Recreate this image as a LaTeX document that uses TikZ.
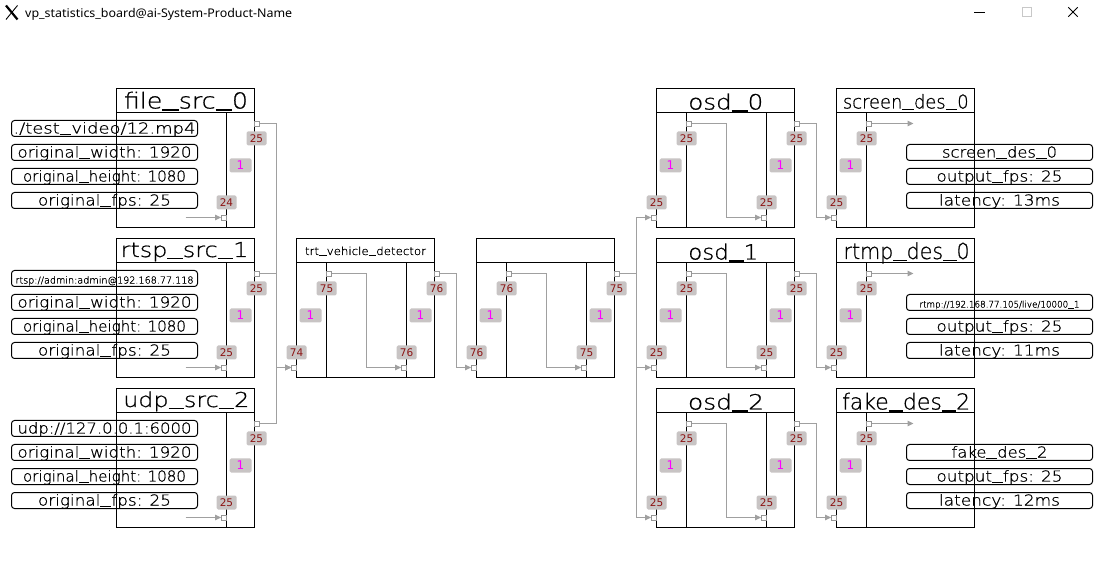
\documentclass[tikz,border=0pt]{standalone}
\usepackage{fontspec}
\usepackage{graphicx}
\usetikzlibrary{arrows.meta}
\newfontfamily\hf{DejaVu Sans ExtraLight}[FakeBold=0.8]
\newfontfamily\lf{DejaVu Sans}
\newfontfamily\uif{Noto Sans}
\definecolor{lblbg}{RGB}{200,196,196}
\definecolor{lblred}{RGB}{140,20,20}
\definecolor{conngray}{RGB}{160,160,160}
\definecolor{portgray}{RGB}{150,150,150}
\definecolor{mag}{RGB}{255,0,255}
\definecolor{ctlgray}{RGB}{200,200,200}
\newcommand\fs[1]{\fontsize{#1}{#1}\selectfont}
\newcommand\fit[2]{\resizebox{#1pt}{\height}{#2}}
\newcommand\us{\rule[-0.1em]{0.65em}{0.055em}}
\tikzset{
 blk/.style={draw=black,line width=1pt,minimum width=138pt,minimum height=139pt,inner sep=0pt},
 blkl/.style={draw=black,line width=1pt},
 port/.style={draw=portgray,fill=white,line width=0.8pt,minimum size=5pt,inner sep=0pt},
 lbl/.style={fill=lblbg,text=lblred,rounded corners=1.5pt,minimum width=20pt,minimum height=14pt,inner sep=0pt,font=\lf\fs{10.5}},
 one/.style={fill=lblbg,text=mag,rounded corners=1.5pt,minimum width=22pt,minimum height=14pt,inner sep=0pt,font=\lf\fs{12}},
 info/.style={draw=black,line width=1pt,rounded corners=3pt,minimum width=186pt,minimum height=16pt,inner sep=0pt,text height=12pt,text depth=2pt,font=\hf\fs{15}},
 conn/.style={draw=conngray,line width=1pt},
 arr/.style={-{Triangle[length=6pt,width=5.5pt]}},
 ttl/.style={anchor=base,inner sep=0pt,font=\hf},
}
% source block: name, L, T, inner label, out label
\newcommand\srcblk[5]{%
 \node[blk] (#1) at (#2+69,#3+69.5) {};
 \draw[blkl] (#2,#3+24) -- (#2+138,#3+24);
 \draw[blkl] (#2+110,#3+24) -- (#2+110,#3+139);
 \node[port] (#1-x) at (#2+107.5,#3+129) {};
 \node[port] (#1-out) at (#2+140.5,#3+35) {};
 \coordinate (#1-xs) at (#2+69,#3+129);
 \draw[conn,arr] (#1-xs) -- (#1-x.west);
 \node[lbl] (#1-xl) at (#2+110,#3+114) {#4};
 \node[lbl] (#1-ol) at (#2+140,#3+50) {#5};
 \node[one] (#1-or) at (#2+124,#3+77) {1};
}
% processing block: name, L, T, in, mid, inner, out labels
\newcommand\procblk[7]{%
 \node[blk] (#1) at (#2+69,#3+69.5) {};
 \draw[blkl] (#2,#3+24) -- (#2+138,#3+24);
 \draw[blkl] (#2+30,#3+24) -- (#2+30,#3+139);
 \draw[blkl] (#2+110,#3+24) -- (#2+110,#3+139);
 \node[port] (#1-in) at (#2-2.5,#3+129) {};
 \node[port] (#1-mid) at (#2+32.5,#3+35) {};
 \node[port] (#1-x) at (#2+107.5,#3+129) {};
 \node[port] (#1-out) at (#2+140.5,#3+35) {};
 \draw[conn,arr] (#1-mid.east) -- (#2+70,#3+35) -- (#2+70,#3+129) -- (#1-x.west);
 \node[lbl] (#1-il) at (#2,#3+114) {#4};
 \node[lbl] (#1-ml) at (#2+30,#3+50) {#5};
 \node[lbl] (#1-xl) at (#2+110,#3+114) {#6};
 \node[lbl] (#1-ol) at (#2+140,#3+50) {#7};
 \node[one] (#1-ol1) at (#2+14,#3+77) {1};
 \node[one] (#1-or1) at (#2+124,#3+77) {1};
}
% destination block: name, L, T, in label, mid label
\newcommand\dstblk[5]{%
 \node[blk] (#1) at (#2+69,#3+69.5) {};
 \draw[blkl] (#2,#3+24) -- (#2+138,#3+24);
 \draw[blkl] (#2+30,#3+24) -- (#2+30,#3+139);
 \node[port] (#1-in) at (#2-2.5,#3+129) {};
 \node[port] (#1-mid) at (#2+32.5,#3+35) {};
 \coordinate (#1-end) at (#2+77,#3+35);
 \draw[conn,arr] (#1-mid.east) -- (#1-end);
 \node[lbl] (#1-il) at (#2,#3+114) {#4};
 \node[lbl] (#1-ml) at (#2+30,#3+50) {#5};
 \node[one] (#1-ol1) at (#2+14,#3+77) {1};
}
\begin{document}
\begin{tikzpicture}[x=1pt,y=-1pt]
\fill[white] (0,0) rectangle (1096,569);
\useasboundingbox (0,0) rectangle (1096,569);
% window title bar
\node[anchor=base west,inner sep=0pt,font=\uif\fs{12}] (wtitle) at (25,17.3) {\fit{267}{vp\_statistics\_board@ai-System-Product-Name}};
\draw[line width=2.2pt] (6,5.5) -- (17.5,19.5);
\draw[line width=0.9pt] (17.5,5.5) -- (6,19.5);
\draw[line width=0.8pt] (974,12.5) -- (985,12.5);
\draw[line width=0.8pt,draw=ctlgray] (1022.7,7.3) rectangle (1031.7,16.7);
\draw[line width=0.9pt] (1068.3,7.3) -- (1077.7,16.7) (1077.7,7.3) -- (1068.3,16.7);

% blocks
\srcblk{fs0}{116.5}{88.5}{24}{25}
\srcblk{rs1}{116.5}{238.5}{25}{25}
\srcblk{us2}{116.5}{388.5}{25}{25}
\procblk{trt}{296.5}{238.5}{74}{75}{76}{76}
\procblk{bb}{476.5}{238.5}{76}{76}{75}{75}
\procblk{osd0}{656.5}{88.5}{25}{25}{25}{25}
\procblk{osd1}{656.5}{238.5}{25}{25}{25}{25}
\procblk{osd2}{656.5}{388.5}{25}{25}{25}{25}
\dstblk{sd0}{836.5}{88.5}{25}{25}
\dstblk{rd0}{836.5}{238.5}{25}{25}
\dstblk{fd2}{836.5}{388.5}{25}{25}

% titles
\node[ttl] (fs0-t) at (186,108.5) {\fs{22}\fit{124}{file\us src\us 0}};
\node[ttl] (rs1-t) at (184.5,257) {\fs{20.5}\fit{127.6}{rtsp\us src\us 1}};
\node[ttl] (us2-t) at (186.3,407) {\fs{20.5}\fit{126}{udp\us src\us 2}};
\node[ttl] (trt-t) at (365.5,255) {\fs{11}\fit{121}{trt\us vehicle\us detector}};
\node[ttl] (osd0-t) at (725.8,109.5) {\fs{21}\fit{75}{osd\us 0}};
\node[ttl] (osd1-t) at (723.3,259.5) {\fs{21}\fit{70}{osd\us 1}};
\node[ttl] (osd2-t) at (726,409.5) {\fs{21}\fit{76}{osd\us 2}};
\node[ttl] (sd0-t) at (905.8,108.5) {\fs{19}\fit{125.7}{screen\us des\us 0}};
\node[ttl] (rd0-t) at (906.6,259) {\fs{22}\fit{126}{rtmp\us des\us 0}};
\node[ttl] (fd2-t) at (906.1,409.5) {\fs{22}\fit{128}{fake\us des\us 2}};

% source info boxes
\node[info] (fs0-a) at (104.5,128.5) {\fit{182}{./test\us video/12.mp4}};
\node[info] (fs0-b) at (104.5,152.5) {\fit{174}{original\us width: 1920}};
\node[info] (fs0-c) at (104.5,176.5) {\fit{163}{original\us height: 1080}};
\node[info] (fs0-d) at (104.5,200.5) {\fit{133}{original\us fps: 25}};
\node[info,font=\hf\fs{9.5}] (rs1-a) at (104.5,278.5) {\fit{178}{rtsp://admin:admin@192.168.77.118}};
\node[info] (rs1-b) at (104.5,302.5) {\fit{174}{original\us width: 1920}};
\node[info] (rs1-c) at (104.5,326.5) {\fit{163}{original\us height: 1080}};
\node[info] (rs1-d) at (104.5,350.5) {\fit{133}{original\us fps: 25}};
\node[info] (us2-a) at (104.5,428.5) {\fit{174}{udp://127.0.0.1:6000}};
\node[info] (us2-b) at (104.5,452.5) {\fit{174}{original\us width: 1920}};
\node[info] (us2-c) at (104.5,476.5) {\fit{163}{original\us height: 1080}};
\node[info] (us2-d) at (104.5,500.5) {\fit{133}{original\us fps: 25}};

% destination info boxes
\node[info] (sd0-a) at (999.5,152.5) {\fit{115}{screen\us des\us 0}};
\node[info] (sd0-b) at (999.5,176.5) {\fit{126}{output\us fps: 25}};
\node[info] (sd0-c) at (999.5,200.5) {\fit{121}{latency: 13ms}};
\node[info,font=\hf\fs{9}] (rd0-a) at (999.5,302.5) {\fit{160}{rtmp://192.168.77.105/live/10000\us 1}};
\node[info] (rd0-b) at (999.5,326.5) {\fit{126}{output\us fps: 25}};
\node[info] (rd0-c) at (999.5,350.5) {\fit{121}{latency: 11ms}};
\node[info] (fd2-a) at (999.5,452.5) {\fit{96}{fake\us des\us 2}};
\node[info] (fd2-b) at (999.5,476.5) {\fit{126}{output\us fps: 25}};
\node[info] (fd2-c) at (999.5,500.5) {\fit{121}{latency: 12ms}};

% connectors
\coordinate (busA) at (276.5,367.5);
\draw[conn,arr] (fs0-out.east) -| (busA) -- (trt-in.west);
\draw[conn,arr] (rs1-out.east) -| (busA) -- (trt-in.west);
\draw[conn,arr] (us2-out.east) -| (busA) -- (trt-in.west);
\coordinate (busB) at (456.5,367.5);
\draw[conn,arr] (trt-out.east) -| (busB) -- (bb-in.west);
\coordinate (busC0) at (636.5,217.5);
\coordinate (busC1) at (636.5,367.5);
\coordinate (busC2) at (636.5,517.5);
\draw[conn,arr] (bb-out.east) -| (busC0) -- (osd0-in.west);
\draw[conn,arr] (bb-out.east) -| (busC1) -- (osd1-in.west);
\draw[conn,arr] (bb-out.east) -| (busC2) -- (osd2-in.west);
\coordinate (busD0) at (816.5,217.5);
\coordinate (busD1) at (816.5,367.5);
\coordinate (busD2) at (816.5,517.5);
\draw[conn,arr] (osd0-out.east) -| (busD0) -- (sd0-in.west);
\draw[conn,arr] (osd1-out.east) -| (busD1) -- (rd0-in.west);
\draw[conn,arr] (osd2-out.east) -| (busD2) -- (fd2-in.west);
\end{tikzpicture}
\end{document}
